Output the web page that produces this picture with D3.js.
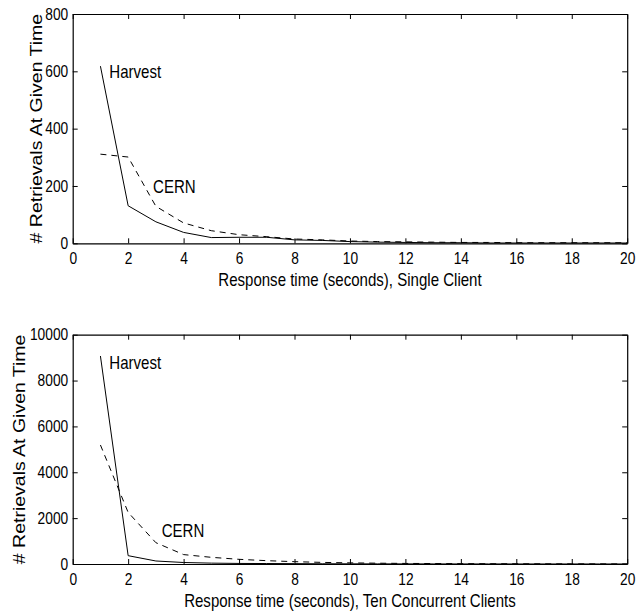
<!DOCTYPE html>
<html>
<head>
<meta charset="utf-8">
<script src="https://cdn.jsdelivr.net/npm/d3@7/dist/d3.min.js"></script>
<style>
  html, body { margin: 0; padding: 0; background: #fff; }
  svg text { font-family: "Liberation Sans", Arial, Helvetica, sans-serif; fill: #000; }
</style>
</head>
<body>
<svg id="chart" width="637" height="614"></svg>
<script>
// ---- data ----
const responseTimes = [1,2,3,4,5,6,7,8,9,10,11,12,13,14,15,16,17,18,19,20];

const harvestSingle = [618,131,75,38,20,21,21,12,10,6,4,3,2,2,1,1,1,1,1,1];
const cernSingle    = [311,301,129,71,44,30,23,15,12,8,6,5,4,3,3,2,2,2,2,2];

const harvestTen = [9070,363,131,65,38,25,20,15,10,8,6,5,4,3,3,2,2,2,1,1];
const cernTen    = [5190,2250,930,410,291,204,145,102,70,50,35,25,20,15,12,10,8,6,5,4];

const xTicks = [0,2,4,6,8,10,12,14,16,18,20];
const yTicksSingle = [0,200,400,600,800];
const yTicksTen = [0,2000,4000,6000,8000,10000];

const panels = [
  { harvest: harvestSingle, cern: cernSingle, yMax: 800, yTicks: yTicksSingle,
    xLabel: "Response time (seconds), Single Client",
    harvestAt: [1.32, 577], cernAt: [2.9, 175] },
  { harvest: harvestTen, cern: cernTen, yMax: 10000, yTicks: yTicksTen,
    xLabel: "Response time (seconds), Ten Concurrent Clients",
    harvestAt: [1.32, 8504], cernAt: [3.21, 1177] }
];
const yLabel = "# Retrievals At Given Time";

// ---- layout ----
const svg = d3.select("#chart");
const left = 72.7, right = 627.2;
const frames = [
  { top: 14, bottom: 243.3, yLabelX: 42 },
  { top: 334.7, bottom: 564, yLabelX: 24.5 }
];
const SX = 0.86; // horizontal compression of glyphs

const x = d3.scaleLinear().domain([0, 20]).range([left, right]);

panels.forEach((p, i) => {
  const f = frames[i];
  const y = d3.scaleLinear().domain([0, p.yMax]).range([f.bottom, f.top]);
  const g = svg.append("g");

  // axes (ticks pointing inward)
  const bottomAxis = d3.axisBottom(x).tickValues(xTicks).tickSizeInner(-5).tickSizeOuter(0).tickPadding(9.5).tickFormat(d3.format("d"));
  const topAxis = d3.axisTop(x).tickValues(xTicks).tickSizeInner(-5).tickSizeOuter(0).tickFormat("");
  const leftAxis = d3.axisLeft(y).tickValues(p.yTicks).tickSizeInner(-5).tickSizeOuter(0).tickPadding(6).tickFormat(d3.format("d"));
  const rightAxis = d3.axisRight(y).tickValues(p.yTicks).tickSizeInner(-5).tickSizeOuter(0).tickFormat("");

  const gb = g.append("g").attr("transform", `translate(0,${f.bottom})`).call(bottomAxis);
  const gt = g.append("g").attr("transform", `translate(0,${f.top})`).call(topAxis);
  const gl = g.append("g").attr("transform", `translate(${left},0)`).call(leftAxis);
  const gr = g.append("g").attr("transform", `translate(${right},0)`).call(rightAxis);

  [gb, gt, gl, gr].forEach(a => {
    a.selectAll("path.domain").attr("stroke", "#000").attr("stroke-width", 1.2);
    a.selectAll(".tick line").attr("stroke", "#000").attr("stroke-width", 1);
  });
  gb.selectAll(".tick text")
    .attr("font-size", 16).attr("font-family", null)
    .attr("transform", `scale(${SX},1)`);
  gl.selectAll(".tick text")
    .attr("font-size", 16).attr("font-family", null)
    .attr("x", -4.5 / SX)
    .attr("transform", `scale(${SX},1)`);

  // lines
  const line = d3.line().x((d, j) => x(responseTimes[j])).y(d => y(d));
  g.append("path").datum(p.harvest)
    .attr("d", line).attr("fill", "none").attr("stroke", "#000").attr("stroke-width", 1);
  g.append("path").datum(p.cern)
    .attr("d", line).attr("fill", "none").attr("stroke", "#000").attr("stroke-width", 1)
    .attr("stroke-dasharray", "6,5");

  // annotations
  g.append("text")
    .attr("transform", `translate(${x(p.harvestAt[0])},${y(p.harvestAt[1])}) scale(${SX},1)`)
    .attr("font-size", 17.5).text("Harvest");
  g.append("text")
    .attr("transform", `translate(${x(p.cernAt[0])},${y(p.cernAt[1])}) scale(${SX},1)`)
    .attr("font-size", 17.5).text("CERN");

  // axis labels
  g.append("text")
    .attr("transform", `translate(${(left + right) / 2},${f.bottom + 42.5}) scale(${SX},1)`)
    .attr("text-anchor", "middle").attr("font-size", 17.5).text(p.xLabel);
  g.append("text")
    .attr("transform", `translate(${f.yLabelX},${(f.top + f.bottom) / 2}) rotate(-90) scale(1,${SX})`)
    .attr("text-anchor", "middle").attr("font-size", 19.5).text(yLabel);
});
</script>
</body>
</html>
